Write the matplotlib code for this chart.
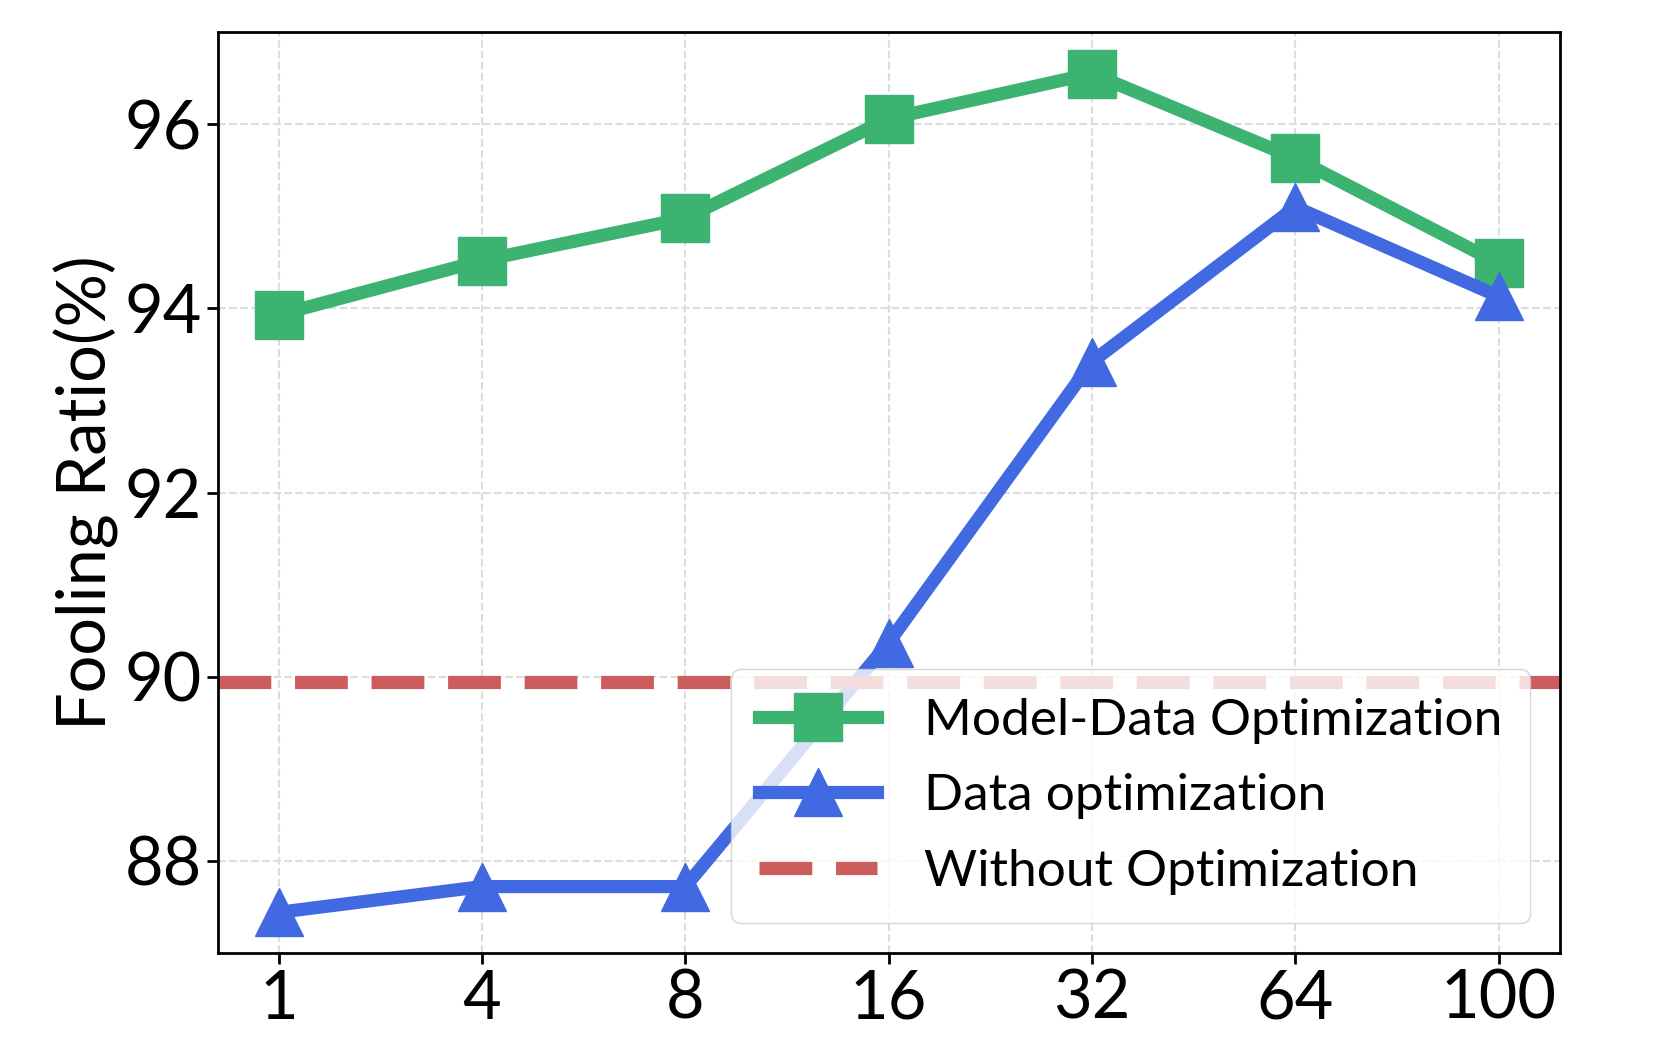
import matplotlib.pyplot as plt
import numpy as np

plt.rcParams['font.family'] = ['Lato', 'DejaVu Sans']

# data
steps = ['1', '4', '8', '16', '32', '64', '100']
model_data = [93.93, 94.52, 94.98, 96.06, 96.55, 95.63, 94.49]
data_only = [87.44, 87.72, 87.72, 90.37, 93.42, 95.10, 94.13]
baseline = 89.94

x = np.arange(len(steps))

fig = plt.figure(figsize=(16.61, 10.38), dpi=100)
ax = fig.add_axes([0.131, 0.082, 0.808, 0.887])

ax.plot(x, model_data, color='#3CB371', lw=9.5, marker='s', ms=35,
        label='Model-Data Optimization')
ax.plot(x, data_only, color='#4169E1', lw=9.5, marker='^', ms=34,
        label='Data optimization')
ax.axhline(baseline, color='#CD5C5C', lw=9.5, dashes=(4.0, 1.8),
           label='Without Optimization')

ax.set_xticks(x)
ax.set_xticklabels(steps)
ax.set_yticks([88, 90, 92, 94, 96])
ax.set_xlim(-0.3, 6.3)
ax.set_ylim(87, 97)
ax.tick_params(labelsize=48, length=8, width=2)
ax.set_ylabel('Fooling Ratio(%)', fontsize=48)
ax.grid(True, ls='--', color='#dddddd', lw=1.5)
for s in ax.spines.values():
    s.set_linewidth(2)

ax.legend(loc='lower right', fontsize=37, handlelength=2.3,
          handletextpad=0.9, framealpha=0.8, borderpad=0.55,
          labelspacing=0.58, borderaxespad=0,
          bbox_to_anchor=(0.978, 0.032))

fig.savefig('out.png', dpi=100)
